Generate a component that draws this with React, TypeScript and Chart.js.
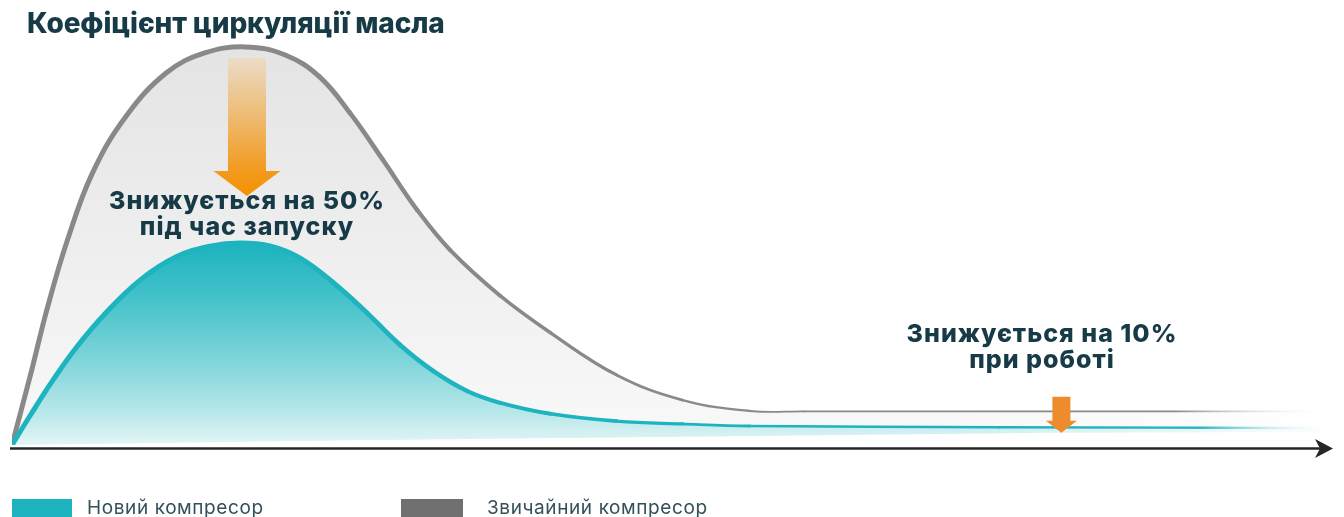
import React, { useEffect, useRef } from "react";
import { Chart, registerables } from "chart.js";

Chart.register(...registerables);

// Time runs 0–100 (arbitrary units); level is oil circulation in % of the conventional peak.
const conventionalX = [0, 1.4, 2.7, 4.2, 6.1, 8.6, 11.7, 14.6, 17.7, 20.7, 23.3, 25.6, 28.1, 30.7, 33.2, 37.0, 40.8, 45.8, 50.8, 55.9, 60.0, 74.8, 100];
const conventionalY = [0, 17.3, 34.1, 50.6, 67.2, 81.0, 91.9, 96.8, 98.3, 96.3, 90.9, 82.0, 70.4, 58.0, 48.1, 36.8, 27.7, 17.3, 11.1, 8.4, 8.3, 8.3, 8.3];

const newX = [0, 1.4, 3.1, 4.9, 7.1, 9.7, 12.4, 15.0, 17.3, 19.6, 21.8, 24.3, 26.9, 29.4, 31.9, 34.5, 37.0, 40.8, 45.8, 50.8, 55.9, 74.8, 100];
const newY = [0, 7.4, 16.0, 24.2, 32.6, 40.7, 46.4, 49.1, 49.9, 49.1, 46.2, 40.2, 32.6, 24.7, 18.3, 13.3, 10.4, 7.7, 5.9, 5.2, 4.7, 4.4, 4.2];

// Lower edge of the shaded areas
const floorX = [0, 25.6, 55.9, 78.6, 100];
const floorY = [0, 1.2, 2.2, 3.0, 3.2];

const seriesLabels = ["Новий компресор", "Звичайний компресор"];
const titleText = "Коефіцієнт циркуляції масла";
const startupNote = ["Знижується на 50%", "під час запуску"];
const runningNote = ["Знижується на 10%", "при роботі"];

const TEAL = "#1db3bf";
const GRAY_LINE = "#898989";
const GRAY_SWATCH = "#707070";
const TEXT_DARK = "#163b47";
const TEXT_LEGEND = "#33505b";
const FONT = "Inter, 'Noto Sans', sans-serif";

const toPoints = (xs: number[], ys: number[]) => xs.map((x, i) => ({ x, y: ys[i] }));

const fillCache = new Map<string, CanvasPattern>();

// Vertical colour gradient for an area, faded out towards the right edge.
function areaFill(chart: any, key: string, stops: [number, string][]) {
  const { width, height, scales, chartArea } = chart;
  if (!chartArea || !scales.y) return "transparent";
  const cacheKey = `${key}-${width}-${height}`;
  const cached = fillCache.get(cacheKey);
  if (cached) return cached;
  const off = document.createElement("canvas");
  off.width = width;
  off.height = height;
  const c = off.getContext("2d")!;
  const top = stops[0][0];
  const bottom = stops[stops.length - 1][0];
  const g = c.createLinearGradient(0, scales.y.getPixelForValue(top), 0, scales.y.getPixelForValue(bottom));
  stops.forEach(([v, col]) => g.addColorStop((top - v) / (top - bottom), col));
  c.fillStyle = g;
  c.fillRect(0, 0, width, height);
  c.globalCompositeOperation = "destination-out";
  const h = c.createLinearGradient(scales.x.getPixelForValue(72), 0, scales.x.getPixelForValue(100) + 6, 0);
  h.addColorStop(0, "rgba(0,0,0,0)");
  h.addColorStop(1, "rgba(0,0,0,1)");
  c.fillStyle = h;
  c.fillRect(0, 0, width, height);
  const pattern = chart.ctx.createPattern(off, "no-repeat");
  fillCache.set(cacheKey, pattern);
  return pattern;
}

// Line colour that fades out at the right end of the time axis.
function fadingStroke(chart: any, color: string, fadeFrom: number) {
  const { scales, chartArea, ctx } = chart;
  if (!chartArea || !scales.x) return color;
  const g = ctx.createLinearGradient(scales.x.getPixelForValue(fadeFrom), 0, scales.x.getPixelForValue(100), 0);
  g.addColorStop(0, color);
  g.addColorStop(1, "rgba(255,255,255,0)");
  return g;
}

function downArrow(
  ctx: CanvasRenderingContext2D,
  cx: number,
  top: number,
  tip: number,
  shaftHalf: number,
  headHalf: number,
  headLen: number,
  fill: string | CanvasGradient
) {
  ctx.beginPath();
  ctx.moveTo(cx - shaftHalf, top);
  ctx.lineTo(cx + shaftHalf, top);
  ctx.lineTo(cx + shaftHalf, tip - headLen);
  ctx.lineTo(cx + headHalf, tip - headLen);
  ctx.lineTo(cx, tip);
  ctx.lineTo(cx - headHalf, tip - headLen);
  ctx.lineTo(cx - shaftHalf, tip - headLen);
  ctx.closePath();
  ctx.fillStyle = fill;
  ctx.fill();
}

// Time axis with arrowhead plus the two "reduction" arrows.
const decorations = {
  id: "decorations",
  afterDatasetsDraw(chart: any) {
    const { ctx, chartArea, scales } = chart;
    const x = scales.x;
    const y = scales.y;
    ctx.save();

    // startup reduction arrow (at the peak)
    const sx = x.getPixelForValue(17.8);
    const sTop = y.getPixelForValue(95.6);
    const sTip = y.getPixelForValue(61.5);
    const grad = ctx.createLinearGradient(0, sTop, 0, sTip);
    grad.addColorStop(0, "#ebdcc7");
    grad.addColorStop(0.45, "#eeb96c");
    grad.addColorStop(0.8, "#f29b22");
    grad.addColorStop(1, "#f39200");
    downArrow(ctx, sx, sTop, sTip, 19, 33.5, 25, grad);

    // running reduction arrow
    const rx = x.getPixelForValue(79.5);
    downArrow(ctx, rx, y.getPixelForValue(11.9), y.getPixelForValue(3.0), 9, 15.5, 12, "#ee8b2c");

    // axis
    const ay = chartArea.bottom + 3.5;
    const tipX = chartArea.right + 1;
    ctx.strokeStyle = "#262626";
    ctx.lineWidth = 2.6;
    ctx.beginPath();
    ctx.moveTo(chartArea.left - 2, ay);
    ctx.lineTo(tipX - 10, ay);
    ctx.stroke();
    ctx.fillStyle = "#262626";
    ctx.beginPath();
    ctx.moveTo(tipX, ay);
    ctx.lineTo(tipX - 18, ay - 9.5);
    ctx.lineTo(tipX - 13, ay);
    ctx.lineTo(tipX - 18, ay + 9.5);
    ctx.closePath();
    ctx.fill();
    ctx.restore();
  },
};

const lerpWidth = (x: number, a: number, b: number, from: number, to: number) =>
  x <= a ? from : x >= b ? to : from + ((to - from) * (x - a)) / (b - a);

const curve = { pointRadius: 0, tension: 0.4 };

export default function App() {
  const canvasRef = useRef<HTMLCanvasElement>(null);

  useEffect(() => {
    const newPoints = toPoints(newX, newY);
    const conventionalPoints = toPoints(conventionalX, conventionalY);
    const chart = new Chart(canvasRef.current!, {
      type: "line",
      data: {
        datasets: [
          {
            label: "floor",
            data: toPoints(floorX, floorY),
            borderWidth: 0,
            pointRadius: 0,
            tension: 0,
            fill: false,
            order: 6,
          },
          {
            label: seriesLabels[0] + " area",
            data: newPoints,
            ...curve,
            borderWidth: 0,
            borderColor: "rgba(0,0,0,0)",
            backgroundColor: (c: any) =>
              areaFill(c.chart, "new", [
                [50, "#1bb3bf"],
                [36, "#45c2ca"],
                [20, "#82d6db"],
                [8, "#b8e7ea"],
                [0, "#e3f5f6"],
              ]),
            fill: { target: 0 },
            order: 3,
          },
          {
            label: seriesLabels[1] + " area",
            data: conventionalPoints,
            ...curve,
            borderWidth: 0,
            borderColor: "rgba(0,0,0,0)",
            backgroundColor: (c: any) =>
              areaFill(c.chart, "conventional", [
                [98, "#e4e4e4"],
                [50, "#eeeeee"],
                [0, "#f9f9f9"],
              ]),
            fill: { target: 0 },
            order: 5,
          },
          {
            label: seriesLabels[0],
            data: newPoints,
            ...curve,
            fill: false,
            borderColor: (c: any) => fadingStroke(c.chart, TEAL, 90),
            borderCapStyle: "round",
            borderJoinStyle: "round",
            segment: {
              borderWidth: (s: any) => lerpWidth(s.p0.parsed.x, 24, 56, 5, 2.4),
            },
            order: 2,
          },
          {
            label: seriesLabels[1],
            data: conventionalPoints,
            ...curve,
            fill: false,
            borderColor: (c: any) => fadingStroke(c.chart, GRAY_LINE, 88),
            borderCapStyle: "round",
            borderJoinStyle: "round",
            segment: {
              borderWidth: (s: any) => lerpWidth(s.p0.parsed.x, 22, 56, 5, 1.8),
            },
            order: 4,
          },
        ],
      } as any,
      options: {
        animation: false,
        responsive: false,
        layout: { padding: { left: 12, right: 12, top: 40, bottom: 72 } },
        scales: {
          x: { type: "linear", min: 0, max: 100, display: false },
          y: { min: 0, max: 100, display: false },
        },
        plugins: {
          legend: { display: false },
          tooltip: { enabled: false },
          title: { display: false },
        },
        elements: { point: { radius: 0 } },
      } as any,
      plugins: [decorations],
    });
    return () => chart.destroy();
  }, []);

  const bold = { fontFamily: FONT, fontWeight: 800, color: TEXT_DARK, whiteSpace: "nowrap" as const };
  const noteLine = (top: number, center: number, text: string) => (
    <div
      style={{
        ...bold,
        position: "absolute",
        left: center - 250,
        width: 500,
        top,
        textAlign: "center",
        fontSize: 25,
        lineHeight: "26px",
        letterSpacing: "1px",
      }}
    >
      {text}
    </div>
  );
  const legendText = (left: number, text: string) => (
    <div
      style={{
        position: "absolute",
        left,
        top: 498,
        fontFamily: FONT,
        fontSize: 19,
        lineHeight: "20px",
        letterSpacing: "0.6px",
        color: TEXT_LEGEND,
        whiteSpace: "nowrap",
      }}
    >
      {text}
    </div>
  );

  return (
    <div style={{ position: "absolute", left: 0, top: 0, width: 1344, height: 517, overflow: "hidden", background: "#fff" }}>
      <canvas ref={canvasRef} width={1344} height={517} style={{ position: "absolute", left: 0, top: 0 }} />
      <div style={{ ...bold, position: "absolute", left: 27, top: 9, fontSize: 28, lineHeight: "28px", letterSpacing: "-0.12px" }}>
        {titleText}
      </div>
      {noteLine(187, 247, startupNote[0])}
      {noteLine(213, 247, startupNote[1])}
      {noteLine(320, 1042, runningNote[0])}
      {noteLine(346, 1042, runningNote[1])}
      <div style={{ position: "absolute", left: 12, top: 499, width: 60, height: 18, background: TEAL }} />
      <div style={{ position: "absolute", left: 401, top: 499, width: 62, height: 18, background: GRAY_SWATCH }} />
      {legendText(87, seriesLabels[0])}
      {legendText(487, seriesLabels[1])}
    </div>
  );
}
